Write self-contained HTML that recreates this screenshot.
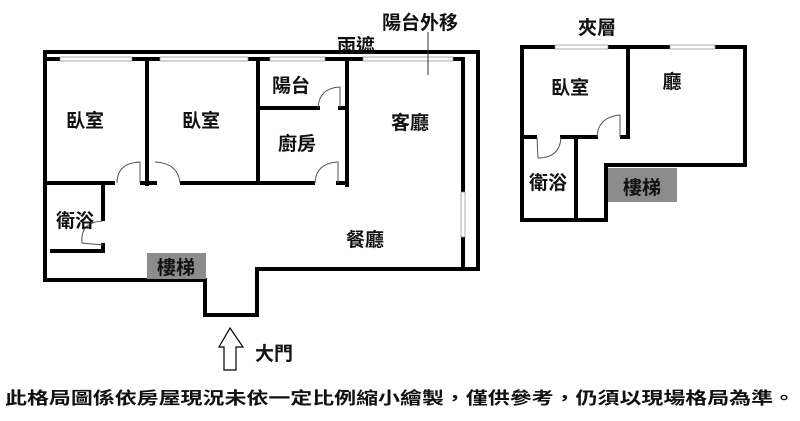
<!DOCTYPE html>
<html><head><meta charset="utf-8"><style>
html,body{margin:0;padding:0;background:#fff;}
svg text{font-family:"Liberation Sans","Noto Sans CJK TC",sans-serif;font-weight:bold;fill:#111;}
</style></head><body>
<svg width="800" height="416" viewBox="0 0 800 416" xmlns="http://www.w3.org/2000/svg">
<g stroke="#000" stroke-width="4" fill="none" stroke-linecap="square">
<polyline points="45,52 478,52 478,268"/>
<polyline points="45,52 45,280 205,280 205,315 257,315 257,269 478,269"/>
<line x1="45" y1="59" x2="463" y2="59"/>
<line x1="463" y1="59" x2="463" y2="190"/>
<line x1="463" y1="237" x2="463" y2="268"/>
<line x1="147" y1="59" x2="147" y2="184"/>
<line x1="258" y1="59" x2="258" y2="183"/>
<line x1="347" y1="59" x2="347" y2="185"/>
<line x1="45" y1="183" x2="113" y2="183"/>
<line x1="142" y1="183" x2="155" y2="183"/>
<line x1="182" y1="183" x2="313" y2="183"/>
<line x1="338" y1="183" x2="347" y2="183"/>
<line x1="258" y1="108" x2="318" y2="108"/>
<line x1="340" y1="108" x2="347" y2="108"/>
<line x1="103" y1="183" x2="103" y2="219"/>
<line x1="52" y1="251" x2="103" y2="251"/>
<line x1="103" y1="245" x2="103" y2="251"/>
<polyline points="522,47 745,47 745,165 606,165 606,220 522,220 522,47"/>
<line x1="628" y1="47" x2="628" y2="137"/>
<line x1="522" y1="137" x2="535" y2="137"/>
<line x1="562" y1="137" x2="596" y2="137"/>
<line x1="622" y1="137" x2="628" y2="137"/>
<line x1="576" y1="137" x2="576" y2="220"/>
</g>
<g fill="#fff" stroke="#888" stroke-width="0.7">
<rect x="60" y="57" width="72" height="4"/>
<rect x="160" y="57" width="88" height="4"/>
<rect x="270" y="57" width="55" height="4"/>
<rect x="363" y="57" width="90" height="4"/>
<rect x="461" y="192" width="4" height="45"/>
<rect x="555" y="45" width="53" height="4"/>
<rect x="670" y="45" width="45" height="4"/>
</g>
<g fill="none" stroke="#555" stroke-width="1">
<path d="M117,183 Q117,163 140,162 L140,183"/>
<path d="M155,162 Q178,163 180,183"/>
<path d="M315,183 Q316,163 338,162 L338,183"/>
<path d="M318,108 Q319,88 340,87 L340,108"/>
<path d="M103,221 Q80,222 82,243 L103,245"/>
<path d="M537,137 L538,158 Q560,158 561,137"/>
<path d="M597,137 Q598,117 620,115 L620,137"/>
</g>
<rect x="147" y="253" width="59" height="26" fill="#8c8c8c"/>
<rect x="608" y="168" width="69" height="34" fill="#8c8c8c"/>
<line x1="428" y1="32" x2="428" y2="75" stroke="#333" stroke-width="1"/>
<polygon points="230,328 243,347 236,347 236,370 224,370 224,347 219,347" fill="#fff" stroke="#000" stroke-width="1.2"/>
<g font-size="19">
<text x="85" y="127" text-anchor="middle">臥室</text>
<text x="201" y="127" text-anchor="middle">臥室</text>
<text x="291" y="92" text-anchor="middle">陽台</text>
<text x="297" y="150" text-anchor="middle">廚房</text>
<text x="410" y="129" text-anchor="middle">客廳</text>
<text x="75" y="227" text-anchor="middle">衛浴</text>
<text x="365" y="246" text-anchor="middle">餐廳</text>
<text x="176" y="274" text-anchor="middle">樓梯</text>
<text x="356" y="52" text-anchor="middle">雨遮</text>
<text x="420" y="29" text-anchor="middle">陽台外移</text>
<text x="274" y="360" text-anchor="middle">大門</text>
<text x="597" y="34" text-anchor="middle">夾層</text>
<text x="570" y="94" text-anchor="middle">臥室</text>
<text x="672" y="88" text-anchor="middle">廳</text>
<text x="548" y="189" text-anchor="middle">衛浴</text>
<text x="642" y="194" text-anchor="middle">樓梯</text>
</g>
<text x="400" y="404" text-anchor="middle" font-size="17" textLength="790" lengthAdjust="spacingAndGlyphs">此格局圖係依房屋現況未依一定比例縮小繪製，僅供參考，仍須以現場格局為準。</text>
</svg>
</body></html>
